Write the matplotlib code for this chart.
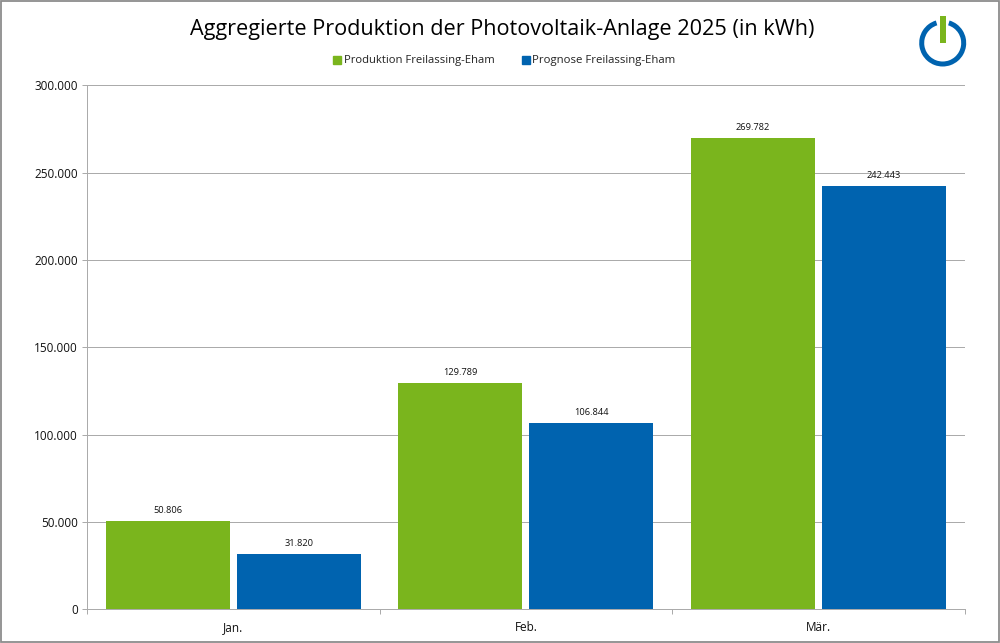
import numpy as np
import matplotlib
matplotlib.use("Agg")
import matplotlib.pyplot as plt
from matplotlib.patches import Wedge, Rectangle

categories = ["Jan.", "Feb.", "Mär."]
produktion = [50806, 129789, 269782]
prognose = [31820, 106844, 242443]
series_names = ["Produktion Freilassing-Eham", "Prognose Freilassing-Eham"]
title = "Aggregierte Produktion der Photovoltaik-Anlage 2025 (in kWh)"
yticks = [0, 50000, 100000, 150000, 200000, 250000, 300000]

GREEN = "#7AB51D"
BLUE = "#0063AF"
GRAY = "#ABABAB"
W, H = 1000, 643

def fmt(v):
    return f"{v:,}".replace(",", ".")

plt.rcParams["font.family"] = ["Open Sans", "DejaVu Sans"]
fig = plt.figure(figsize=(W / 100, H / 100), dpi=100, facecolor="white")
ax = fig.add_axes([87.2 / W, 1 - 609.3 / H, (964.7 - 87.2) / W, (609.3 - 85.2) / H])

x = np.arange(len(categories))
bw = 124 / 292.5
off = 65.5 / 292.5
b1 = ax.bar(x - off, produktion, bw, color=GREEN, zorder=3, label=series_names[0])
b2 = ax.bar(x + off, prognose, bw, color=BLUE, zorder=3, label=series_names[1])
for bars in (b1, b2):
    for r in bars:
        ax.annotate(fmt(int(r.get_height())), (r.get_x() + r.get_width() / 2, r.get_height()),
                    xytext=(0, 4.0), textcoords="offset points", ha="center", va="bottom",
                    fontsize=6.7, color="#111111")

ax.set_xlim(-0.5, 2.5)
ax.set_ylim(0, 300000)
ax.set_yticks(yticks, [fmt(v) for v in yticks], fontsize=8.5, color="#111111")
ax.set_xticks(x, categories, fontsize=8.5, color="#111111")
ax.set_xticks(np.arange(-0.5, 3, 1), minor=True)
ax.tick_params(axis="y", length=3.8, width=0.72, color=GRAY, pad=3)
ax.tick_params(axis="x", which="major", length=0, pad=8.5)
ax.tick_params(axis="x", which="minor", length=3.4, width=0.72, color=GRAY)
ax.grid(axis="y", color=GRAY, lw=0.72, zorder=0)
for s in ("top", "right"):
    ax.spines[s].set_visible(False)
for s in ("left", "bottom"):
    ax.spines[s].set_color(GRAY)
    ax.spines[s].set_linewidth(0.72)

fig.text(501.8 / W, 1 - 29.5 / H, title, ha="center", va="center", fontsize=15.55, color="black")

# legend drawn at its reference position
fig.patches.append(Rectangle((333 / W, 1 - 64 / H), 8 / W, 8 / H, transform=fig.transFigure, color=GREEN))
fig.patches.append(Rectangle((521.5 / W, 1 - 64 / H), 8 / W, 8 / H, transform=fig.transFigure, color=BLUE))
fig.text(343.5 / W, 1 - 61 / H, series_names[0], va="center", fontsize=8.15, color="#222222")
fig.text(532 / W, 1 - 61 / H, series_names[1], va="center", fontsize=8.2, color="#222222")

# logo and outer frame in pixel coordinates
ov = fig.add_axes([0, 0, 1, 1], facecolor="none", zorder=5)
ov.set_xlim(0, W)
ov.set_ylim(H, 0)
ov.axis("off")
ov.add_patch(Wedge((942.7, 43), 23.5, -73, 253, width=5, color=BLUE, lw=0))
ov.add_patch(Rectangle((940, 16), 5.7, 27, color=GREEN, lw=0))
ov.add_patch(Rectangle((0.5, 0.5), W - 1.5, H - 1.5, fill=False, ec="#8C8C8C", lw=1.3))

fig.savefig("out.png", dpi=100)
